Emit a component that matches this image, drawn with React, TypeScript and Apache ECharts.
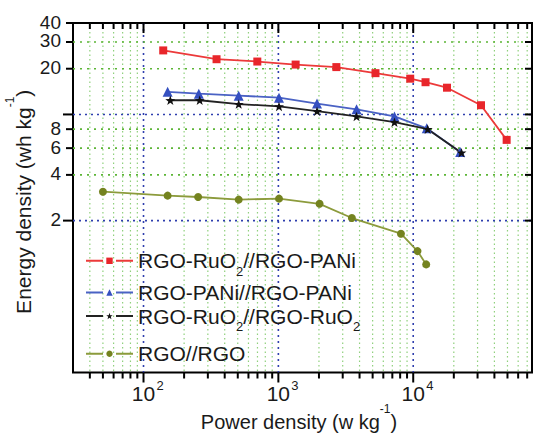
import React, { useEffect, useRef } from 'react';
import * as echarts from 'echarts';

const FONT = '"Liberation Sans", Arial, Helvetica, sans-serif';

// ---- data ----
const seriesNames = ['RGO-RuO2//RGO-PANi', 'RGO-PANi//RGO-PANi', 'RGO-RuO2//RGO-RuO2', 'RGO//RGO'];

const ruPaniPower = [140, 348, 698, 1343, 2692, 5250, 9500, 12340, 17800, 31800, 49300];
const ruPaniEnergy = [26.4, 23.1, 22.3, 21.3, 20.5, 18.7, 17.2, 16.3, 15.0, 11.5, 6.8];

const paniPower = [151, 257, 508, 1011, 1935, 3800, 7260, 12600, 22300];
const paniEnergy = [14.1, 13.7, 13.3, 12.9, 11.8, 10.8, 9.7, 8.1, 5.65];

const ruPower = [158, 261, 508, 1011, 1935, 3800, 7260, 12800, 22800];
const ruEnergy = [12.4, 12.4, 11.7, 11.3, 10.5, 9.7, 8.9, 8.0, 5.6];

const rgoPower = [50, 151, 254, 508, 1011, 2020, 3510, 8110, 10760, 12480];
const rgoEnergy = [3.1, 2.92, 2.86, 2.75, 2.79, 2.58, 2.08, 1.64, 1.26, 1.03];

const xMin = 30;
const xMax = 76000;
const yMin = 0.2;
const yMax = 40;

const xTicks = [40, 50, 60, 70, 80, 90, 100, 200, 300, 400, 500, 600, 700, 800, 900,
  1000, 2000, 3000, 4000, 5000, 6000, 7000, 8000, 9000,
  10000, 20000, 30000, 40000, 50000, 60000, 70000];
const xMajorTicks = [100, 1000, 10000];
const xMajorExponents = ['2', '3', '4'];

const yTicks = [2, 4, 6, 8, 10, 20, 30, 40];
const yMajorTicks = [2, 10];
const yTickLabels = ['2', '4', '6', '8', '', '20', '30', '40'];

// ---- styles ----
const colors = ['#e8262b', '#3550c0', '#111111', '#74831f'];
const lineColors = ['#ec3a3a', '#4a62c4', '#222222', '#8c9b3c'];
const STAR = 'path://M0,-10 L2.35,-3.24 L9.51,-3.09 L3.8,1.24 L5.88,8.09 L0,4 L-5.88,8.09 L-3.8,1.24 L-9.51,-3.09 L-2.35,-3.24 Z';
const symbols = ['rect', 'triangle', STAR, 'circle'];
const symbolSizes = [8, 10, 10, 8];

const blueGrid = { stroke: '#2f3fae', lineWidth: 1.6, lineDash: [2, 4] };
const greenGridV = { stroke: '#8fd07c', lineWidth: 1.2, lineDash: [1.5, 3] };
const greenGridH = { stroke: '#5cb536', lineWidth: 1.6, lineDash: [2, 5] };
const tickStyle = { stroke: '#000', lineWidth: 2 };

const legendLabels = [
  '{d|RGO-RuO}{e|2}{d|//RGO-PANi}',
  '{c|RGO-PANi//RGO-PANi}',
  '{d|RGO-RuO}{e|2}{d|//RGO-RuO}{e|2}',
  '{c|RGO//RGO}',
];
const legendTops = [250.3, 282, 305.5, 343.3];

const TXT = '#1a1a1a';
const legendRich = {
  c: { fontSize: 21, fontFamily: FONT, lineHeight: 20, color: TXT },
  d: { fontSize: 21, fontFamily: FONT, lineHeight: 20, verticalAlign: 'middle', color: TXT },
  e: { fontSize: 13, fontFamily: FONT, lineHeight: 14, padding: [14, 0, 0, 0], verticalAlign: 'top', color: TXT },
};

function renderXTicks(params: any, api: any) {
  const v = api.value(0);
  const cs = params.coordSys;
  const x = api.coord([v, yMin])[0];
  const top = cs.y;
  const bottom = cs.y + cs.height;
  const mi = xMajorTicks.indexOf(v);
  const major = mi >= 0;
  const len = major ? 10 : 6;
  const children: any[] = [
    { type: 'line', shape: { x1: x, y1: top, x2: x, y2: bottom }, style: major ? blueGrid : greenGridV },
    { type: 'line', shape: { x1: x, y1: bottom, x2: x, y2: bottom + len }, style: tickStyle },
    { type: 'line', shape: { x1: x, y1: top, x2: x, y2: top + len }, style: tickStyle },
  ];
  if (major) {
    children.push({
      type: 'text', x, y: bottom + 21,
      style: { text: '10', fontSize: 21, fontFamily: FONT, fill: TXT, align: 'center', verticalAlign: 'middle' },
    });
    children.push({
      type: 'text', x: x + 13, y: bottom + 13,
      style: { text: xMajorExponents[mi], fontSize: 13, fontFamily: FONT, fill: TXT, align: 'left', verticalAlign: 'middle' },
    });
  }
  return { type: 'group', children };
}

function renderYTicks(params: any, api: any) {
  const v = api.value(1);
  const cs = params.coordSys;
  const y = api.coord([xMin, v])[1];
  const left = cs.x;
  const right = cs.x + cs.width;
  const i = yTicks.indexOf(v);
  const major = yMajorTicks.indexOf(v) >= 0;
  const len = major ? 10 : 7;
  const children: any[] = [];
  if (v < yMax) {
    children.push({ type: 'line', shape: { x1: left, y1: y, x2: right, y2: y }, style: major ? blueGrid : greenGridH });
  }
  children.push({ type: 'line', shape: { x1: left - len, y1: y, x2: left, y2: y }, style: tickStyle });
  children.push({ type: 'line', shape: { x1: right - 7, y1: y, x2: right, y2: y }, style: tickStyle });
  if (yTickLabels[i]) {
    children.push({
      type: 'text', x: left - 12, y: y - 1,
      style: { text: yTickLabels[i], fontSize: 19, fontFamily: FONT, fill: TXT, align: 'right', verticalAlign: 'middle' },
    });
  }
  return { type: 'group', children };
}

const powers = [ruPaniPower, paniPower, ruPower, rgoPower];
const energies = [ruPaniEnergy, paniEnergy, ruEnergy, rgoEnergy];

export default function App() {
  const ref = useRef<HTMLDivElement>(null);
  useEffect(() => {
    const chart = echarts.init(ref.current!, null, { renderer: 'svg' });
    const lineSeries = seriesNames.map((name, i) => ({
      name,
      type: 'line',
      data: powers[i].map((p, j) => [p, energies[i][j]]),
      symbol: symbols[i],
      symbolSize: symbolSizes[i],
      symbolKeepAspect: true,
      showSymbol: true,
      itemStyle: { color: colors[i] },
      lineStyle: { color: lineColors[i], width: 1.8 },
      z: 5,
    }));
    const option: any = {
      animation: false,
      grid: {
        left: 73, top: 23, right: 3, bottom: 62.5, show: true,
        borderColor: '#000', borderWidth: 2, backgroundColor: 'transparent',
        outerBoundsMode: 'none', containLabel: false,
      },
      xAxis: {
        type: 'log', logBase: 10, min: xMin, max: xMax,
        axisLine: { show: false }, axisTick: { show: false }, axisLabel: { show: false }, splitLine: { show: false },
        name: '{a|Power density (w kg}{b|-1}{a|)}',
        nameLocation: 'middle', nameGap: 30,
        nameTextStyle: {
          fontFamily: FONT, fontSize: 20, color: TXT, padding: [0, 7, 0, 0],
          rich: {
            a: { fontSize: 20, fontFamily: FONT, lineHeight: 24, padding: [9, 0, 0, 0], verticalAlign: 'top', color: TXT },
            b: { fontSize: 12, fontFamily: FONT, lineHeight: 14, verticalAlign: 'top', color: TXT },
          },
        },
      },
      yAxis: {
        type: 'log', logBase: 10, min: yMin, max: yMax,
        axisLine: { show: false }, axisTick: { show: false }, axisLabel: { show: false }, splitLine: { show: false },
        name: '{a|Energy density (wh kg}{b|-1}{a|)}',
        nameLocation: 'middle', nameGap: 45,
        nameTextStyle: {
          fontFamily: FONT, fontSize: 21, color: TXT, padding: [0, 8, 0, 0],
          rich: {
            a: { fontSize: 21, fontFamily: FONT, lineHeight: 24, padding: [9, 0, 0, 0], verticalAlign: 'top', color: TXT },
            b: { fontSize: 12, fontFamily: FONT, lineHeight: 14, verticalAlign: 'top', color: TXT },
          },
        },
      },
      legend: seriesNames.map((name, i) => ({
        data: [name],
        left: 85,
        top: legendTops[i],
        padding: 0,
        orient: 'vertical',
        itemWidth: 47,
        itemHeight: 8,
        selectedMode: false,
        formatter: () => legendLabels[i],
        lineStyle: { type: [17, 13] },
        textStyle: { fontFamily: FONT, fontSize: 21, color: TXT, rich: legendRich },
      })),
      series: [
        {
          type: 'custom', name: 'xgrid', renderItem: renderXTicks,
          data: xTicks.map((v) => [v, yMin]), z: 1, silent: true, clip: false,
        },
        {
          type: 'custom', name: 'ygrid', renderItem: renderYTicks,
          data: yTicks.map((v) => [xMin, v]), z: 1, silent: true, clip: false,
        },
        ...lineSeries,
      ],
    };
    chart.setOption(option);
    return () => chart.dispose();
  }, []);
  return <div ref={ref} style={{ position: 'absolute', left: 0, top: 0, width: 535, height: 435 }} />;
}
